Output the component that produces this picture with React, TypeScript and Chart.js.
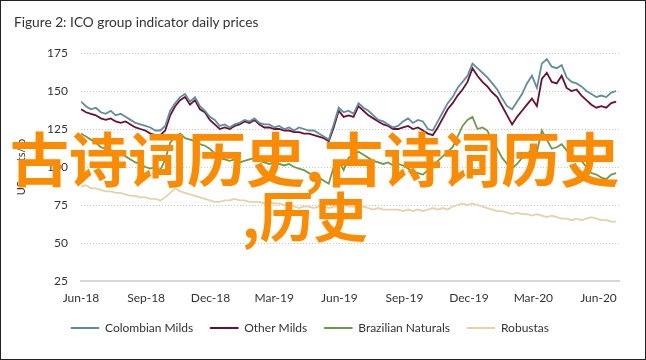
import React, { useEffect, useRef } from 'react';
import { Chart, registerables } from 'chart.js';

Chart.register(...registerables);

// ---- data (weekly readings, US cents/lb) ----
const startDate = '2018-06-01';
const stepDays = 7;

const seriesNames = ['Colombian Milds', 'Other Milds', 'Brazilian Naturals', 'Robustas'];
const seriesColors = ['#5f8d9e', '#6b1030', '#6e9a4c', '#e4d2ad'];

const colombianMilds = [
  143, 140, 138, 139, 136, 135, 137, 134, 135, 133,
  131, 129, 128, 127, 126, 124, 124, 127, 137, 142,
  146, 148, 143, 146, 140, 137, 133, 131, 127, 128,
  126, 128, 129, 131, 130, 132, 129, 128, 128, 126,
  127, 125, 126, 124, 126, 125, 124, 124, 122, 120,
  118, 128, 139, 136, 137, 135, 142, 139, 137, 134,
  131, 130, 128, 126, 127, 130, 132, 129, 131, 130,
  125, 124, 130, 136, 142, 146, 152, 156, 160, 168,
  165, 162, 159, 155, 151, 145, 140, 138, 143, 148,
  155, 160, 152, 168, 171, 166, 165, 167, 159, 156,
  155, 153, 150, 148, 146, 147, 146, 149, 150,
];

const otherMilds = [
  138, 136, 135, 134, 132, 131, 132, 130, 129, 130,
  128, 126, 125, 124, 122, 121, 121, 124, 134, 140,
  144, 146, 141, 144, 138, 136, 131, 128, 125, 126,
  125, 127, 128, 130, 129, 131, 128, 126, 126, 125,
  125, 124, 124, 123, 123, 122, 122, 121, 120, 119,
  117, 126, 137, 133, 134, 133, 140, 137, 134, 132,
  130, 128, 127, 125, 125, 126, 127, 125, 126, 124,
  122, 121, 126, 132, 138, 142, 147, 151, 156, 165,
  160, 156, 153, 149, 146, 140, 134, 128, 133, 137,
  141, 145, 140, 158, 162, 156, 155, 160, 152, 150,
  151, 147, 144, 141, 139, 140, 139, 142, 143,
];

const brazilianNaturals = [
  122, 120, 118, 116, 113, 112, 111, 110, 109, 107,
  105, 103, 102, 100, 99, 100, 98, 105, 116, 120,
  122, 119, 118, 117, 115, 114, 112, 109, 106, 105,
  104, 105, 103, 104, 105, 106, 104, 103, 102, 103,
  102, 101, 102, 100, 99, 98, 96, 95, 93, 91,
  89, 100, 104, 98, 106, 108, 110, 108, 106, 104,
  103, 102, 103, 101, 102, 101, 99, 97, 96, 95,
  98, 101, 104, 107, 110, 113, 120, 127, 131, 133,
  125, 126, 124, 117, 112, 106, 102, 99, 102, 106,
  108, 112, 110, 124, 118, 112, 113, 115, 111, 108,
  106, 104, 100, 96, 95, 93, 92, 95, 96,
];

const robustas = [
  87, 88, 86, 86, 85, 84, 84, 83, 83, 82,
  81, 81, 80, 80, 79, 79, 78, 80, 83, 86,
  84, 83, 82, 81, 80, 79, 78, 77, 77, 78,
  78, 79, 78, 78, 77, 77, 77, 76, 77, 76,
  76, 75, 76, 74, 73, 74, 74, 73, 74, 74,
  73, 74, 74, 75, 74, 74, 73, 74, 73, 72,
  73, 72, 72, 72, 72, 71, 72, 71, 72, 71,
  72, 73, 72, 73, 72, 74, 75, 76, 75, 76,
  75, 74, 73, 72, 71, 71, 70, 69, 70, 69,
  69, 68, 69, 68, 67, 68, 67, 66, 66, 65,
  66, 65, 66, 67, 66, 65, 65, 64, 64,
];

const tickLabels = ['Jun-18', 'Sep-18', 'Dec-18', 'Mar-19', 'Jun-19', 'Sep-19', 'Dec-19', 'Mar-20', 'Jun-20'];
const tickDates = ['2018-06-01', '2018-09-01', '2018-12-01', '2019-03-01', '2019-06-01', '2019-09-01', '2019-12-01', '2020-03-01', '2020-06-01'];
const yMin = 25;
const yMax = 175;
const yStep = 25;
const xMaxDays = 760;

const titleText = 'Figure 2: ICO group indicator daily prices';
const yAxisTitle = 'US cents/lb';
const watermarkLine1 = '古诗词历史,古诗词历史';
const watermarkLine2 = ',历史';

const DAY = 86400000;
const dayOffset = (d: string) => Math.round((Date.parse(d) - Date.parse(startDate)) / DAY);

export default function App() {
  const canvasRef = useRef<HTMLCanvasElement | null>(null);

  useEffect(() => {
    if (!canvasRef.current) return;
    const allSeries = [colombianMilds, otherMilds, brazilianNaturals, robustas];
    const tickDays = tickDates.map(dayOffset);

    const chart = new Chart(canvasRef.current, {
      type: 'line',
      data: {
        datasets: allSeries.map((arr, k) => ({
          label: seriesNames[k],
          data: arr.map((v, i) => ({ x: i * stepDays, y: v })),
          borderColor: seriesColors[k],
          backgroundColor: seriesColors[k],
          borderWidth: 1.8,
          pointRadius: 0,
          tension: 0,
          fill: false,
        })),
      },
      options: {
        animation: false,
        responsive: false,
        maintainAspectRatio: false,
        layout: { padding: { top: 52, bottom: 15, left: 0, right: 26 } },
        font: { family: 'Lato' },
        plugins: {
          tooltip: { enabled: false },
          title: { display: false },
          legend: {
            display: true,
            position: 'bottom',
            labels: {
              color: '#333333',
              font: { family: 'Lato', size: 12 },
              boxWidth: 28,
              boxHeight: 1,
              padding: 17,
              generateLabels: (c: any) => {
                const items = Chart.defaults.plugins.legend.labels.generateLabels(c);
                return items.map((it: any) => ({ ...it, lineWidth: 1 }));
              },
            },
          },
        },
        scales: {
          x: {
            type: 'linear',
            min: 0,
            max: xMaxDays,
            grid: { display: false, drawTicks: false },
            border: { display: true, color: '#d6d6d6', width: 2 },
            afterBuildTicks: (scale: any) => {
              scale.ticks = tickDays.map((v) => ({ value: v }));
            },
            afterFit: (scale: any) => {
              scale.height = 24;
            },
            ticks: {
              autoSkip: false,
              maxRotation: 0,
              padding: 10,
              color: '#333333',
              font: { family: 'Lato', size: 12 },
              callback: (value: any) => {
                const idx = tickDays.indexOf(Number(value));
                return idx >= 0 ? tickLabels[idx] : '';
              },
            },
          },
          y: {
            min: yMin,
            max: yMax,
            grid: { color: '#c9c9c9', lineWidth: 1, drawTicks: false },
            border: { display: false, dash: [1, 2] },
            afterFit: (scale: any) => {
              scale.width = 80;
            },
            ticks: {
              stepSize: yStep,
              padding: 13,
              color: '#333333',
              font: { family: 'Lato', size: 12 },
            },
            title: {
              display: true,
              text: yAxisTitle,
              color: '#333333',
              font: { family: 'Lato', size: 11 },
              padding: { top: 14, bottom: 0 },
            },
          },
        },
      },
    });
    return () => chart.destroy();
  }, []);

  return (
    <div
      style={{
        position: 'absolute',
        left: 0,
        top: 0,
        width: 646,
        height: 360,
        boxSizing: 'border-box',
        border: '1px solid #222',
        background: '#fff',
        overflow: 'hidden',
      }}
    >
      <canvas
        ref={canvasRef}
        width={644}
        height={358}
        style={{ position: 'absolute', left: 0, top: 0, width: 644, height: 358 }}
      />
      <div
        style={{
          position: 'absolute',
          left: 13,
          top: 12,
          fontFamily: 'Lato, sans-serif',
          fontSize: 13.7,
          color: '#333',
          whiteSpace: 'nowrap',
        }}
      >
        {titleText}
      </div>
      <div
        style={{
          position: 'absolute',
          left: 9,
          top: 126,
          fontFamily: '"Noto Sans CJK SC", sans-serif',
          fontWeight: 700,
          fontSize: 59,
          lineHeight: 1,
          color: '#fd8b00',
          whiteSpace: 'nowrap',
        }}
      >
        {watermarkLine1}
      </div>
      <div
        style={{
          position: 'absolute',
          left: 241,
          top: 187,
          fontFamily: '"Noto Sans CJK SC", sans-serif',
          fontWeight: 700,
          fontSize: 54,
          lineHeight: 1,
          color: '#fd8b00',
          whiteSpace: 'nowrap',
        }}
      >
        {watermarkLine2}
      </div>
    </div>
  );
}
